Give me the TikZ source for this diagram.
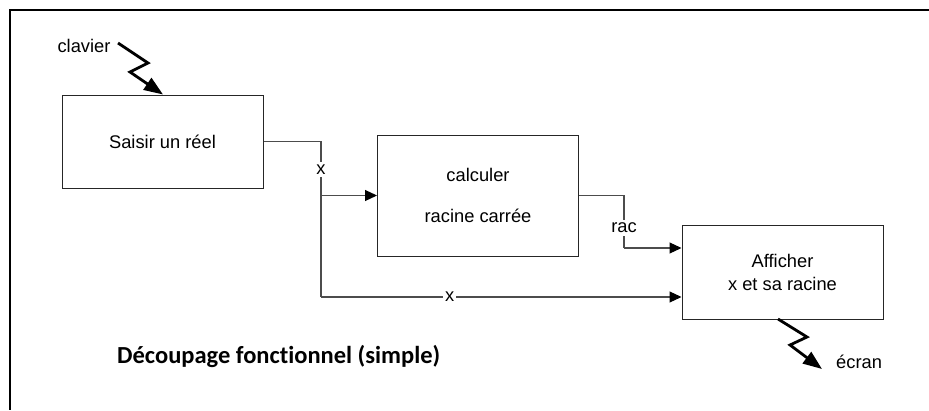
\documentclass[tikz,border=0pt]{standalone}
\usepackage{fontspec}
\setmainfont{Liberation Sans}
\newfontfamily\titlefont[Ligatures=NoCommon]{Carlito}
\usetikzlibrary{arrows.meta}
\tikzset{
  box/.style={draw=black!85, line width=1pt, minimum width=201pt, minimum height=#1, inner sep=0pt, align=center, font=\fontsize{18.3}{23}\selectfont},
  box/.default=93pt,
  conn/.style={draw=black!70, line width=1.1pt},
  arr/.style={-{Triangle[length=12pt,width=11pt,color=black]}},
  lab/.style={fill=white, inner sep=3pt, font=\fontsize{18.3}{22}\selectfont},
  bolt/.style={line width=2.8pt, line join=miter, -{Triangle[length=19pt,width=14pt]}},
  txt/.style={inner sep=0pt, font=\fontsize{18.3}{22}\selectfont}
}
\begin{document}
\begin{tikzpicture}[x=1pt,y=-1pt]
\useasboundingbox (0,0) rectangle (929,410);
\fill[white] (0,0) rectangle (929,410);
% frame (top and left)
\draw[line width=2pt] (929,9.5) -- (9.5,9.5) -- (9.5,410);

% boxes
\node[box=93pt] (b1) at (162.5,141.5) {Saisir un réel};
\node[box=121pt] (b2) at (478,195.5) {calculer\\[18pt]racine carrée};
\node[box=94pt] (b3) at (782.5,272) {Afficher\\x et sa racine};

% junctions
\coordinate (j1) at (321,141.5);
\coordinate (j2) at (321,195.5);
\coordinate (j3) at (321,297);
\coordinate (r1) at (624,195.5);
\coordinate (r2) at (624,248);

% connectors
\draw[conn] (b1.east) -- (j1) -- node[lab, pos=0.18] (lx1) {x} (j3);
\draw[conn, arr] (j3) -- node[lab, pos=0.357, inner xsep=2pt] (lx2) {x} (b3.west |- j3);
\draw[conn, arr] (j2) -- (b2.west);
\draw[conn] (b2.east) -- (r1) -- node[lab, pos=0.62] (lrac) {rac} (r2);
\draw[conn, arr] (r2) -- (b3.west |- r2);

% clavier input
\node[txt] (clav) at (84,46) {clavier};
\coordinate (k1) at (118,43);
\coordinate (k2) at (148,63);
\coordinate (k3) at (130,72);
\draw[bolt] (k1) -- (k2) -- (k3) -- (b1.north -| 163,0);

% ecran output
\coordinate (e0) at (778,319);
\coordinate (e1) at (807,337);
\coordinate (e2) at (790,345);
\coordinate (e3) at (822,369);
\draw[bolt] (e0) -- (e1) -- (e2) -- (e3);
\node[txt, anchor=west] (ecr) at (836,362) {écran};

% title
\node[anchor=base west, inner sep=0pt, font=\titlefont\bfseries\fontsize{24.5}{30}\selectfont] (title) at (117,363) {Découpage fonctionnel (simple)};
\end{tikzpicture}
\end{document}
